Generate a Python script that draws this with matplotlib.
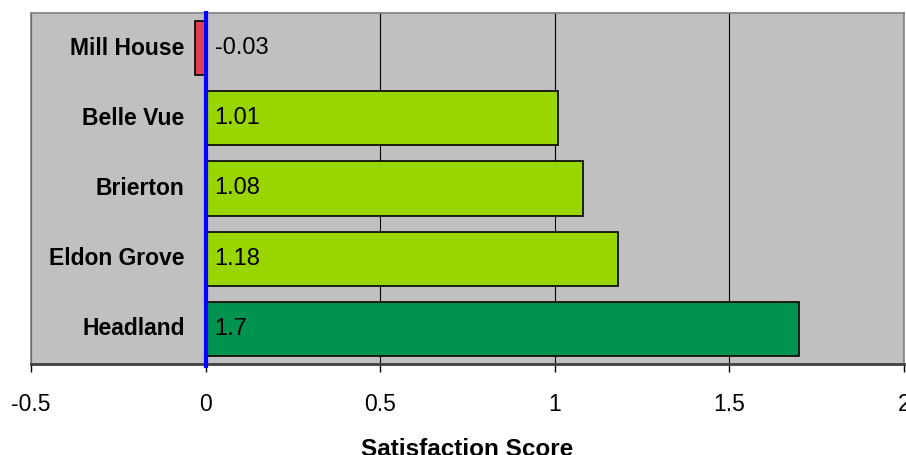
import matplotlib.pyplot as plt

plt.rcParams["font.family"] = ["Liberation Sans", "DejaVu Sans"]

categories = ["Headland", "Eldon Grove", "Brierton", "Belle Vue", "Mill House"]
scores = [1.7, 1.18, 1.08, 1.01, -0.03]
value_labels = ["1.7", "1.18", "1.08", "1.01", "-0.03"]
colors = ["#00924F", "#99D600", "#99D600", "#99D600", "#DE4052"]

fig = plt.figure(figsize=(9.06, 4.55), dpi=100)
ax = fig.add_axes([31 / 906, 1 - 364 / 455, 873 / 906, 351 / 455])
ax.set_facecolor("#C0C0C0")

ypos = range(len(categories))
ax.barh(ypos, scores, height=0.77, color=colors, edgecolor="black", linewidth=1.2, zorder=3)

# category names sit inside the plot, left of zero
for y, name in zip(ypos, categories):
    ax.text(-0.06, y, name, ha="right", va="center", fontsize=16.5, fontweight="bold", zorder=4)
for y, lab in zip(ypos, value_labels):
    ax.text(0.026, y, lab, ha="left", va="center", fontsize=17, zorder=4)

ax.set_xlim(-0.5, 2)
ax.set_ylim(-0.5, len(categories) - 0.5)
ax.set_xticks([-0.5, 0, 0.5, 1, 1.5, 2])
ax.set_xticklabels(["-0.5", "0", "0.5", "1", "1.5", "2"], fontsize=16.5)
ax.set_yticks([])
ax.tick_params(axis="x", direction="out", length=6, width=1, pad=15)
ax.grid(axis="x", color="black", linewidth=0.8, zorder=1)
ax.axvline(0, color="#0000FF", linewidth=3, zorder=5, clip_on=False, ymin=-0.005, ymax=1.0)

for side in ["top", "left", "right"]:
    ax.spines[side].set_color("#808080")
    ax.spines[side].set_linewidth(1.2)
ax.spines["bottom"].set_color("#404040")
ax.spines["bottom"].set_linewidth(2)

# axis title sits low, partly cut by the bottom edge as in the original
fig.text(467.5 / 906, 1 - 456 / 455, "Satisfaction Score", ha="center", va="baseline",
         fontsize=17.5, fontweight="bold")

fig.savefig("out.png", dpi=100)
